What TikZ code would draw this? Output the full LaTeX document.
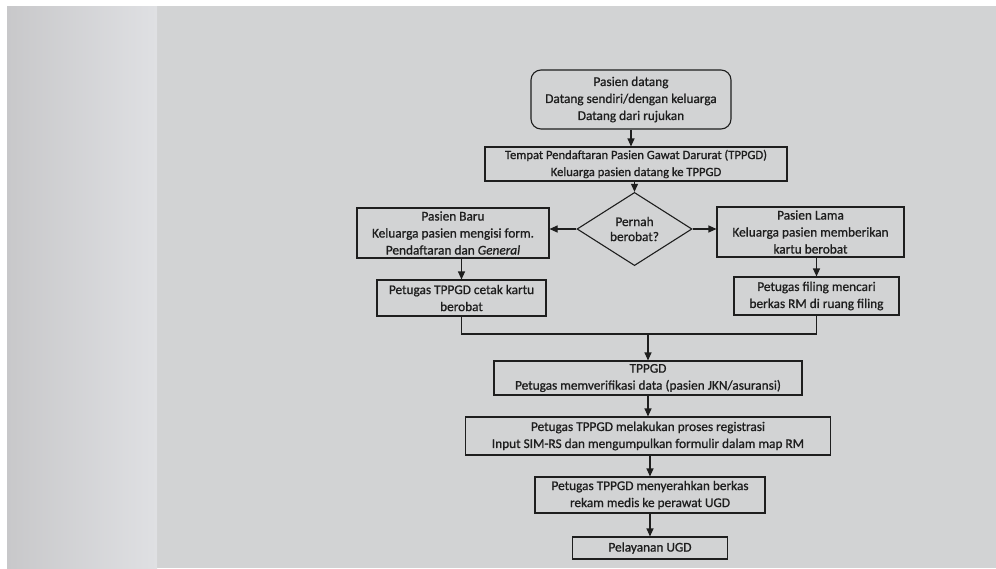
\documentclass[tikz,border=0pt]{standalone}
\usepackage{fontspec}
\setmainfont{Carlito}[FakeBold=0.9]
\usepackage{xcolor}
\usetikzlibrary{arrows.meta, shapes.geometric}
\definecolor{paper}{HTML}{D2D3D4}
\definecolor{foldlight}{HTML}{DFE0E3}
\definecolor{folddark}{HTML}{C8C8CA}
\definecolor{ink}{HTML}{1E1E1E}
\newcommand{\flowfont}{\fontsize{13.3}{17}\selectfont}

\begin{document}
\begin{tikzpicture}[x=1pt, y=-1pt,
    box/.style={draw=ink, line width=1.1pt, inner sep=0pt, align=center,
      text=ink, font=\flowfont},
    decide/.style={box, diamond, font=\fontsize{13.3}{15}\selectfont},
    arr/.style={draw=ink, line width=1.1pt, -{Triangle[length=8pt, width=7pt]}},
    link/.style={draw=ink, line width=1.1pt}]
    % Paper and page fold
    \useasboundingbox (0,0) rectangle (996,568);
    \fill[white] (0,0) rectangle (996,568);
    \fill[paper] (7,6) rectangle (996,568);
    \shade[left color=folddark, right color=foldlight] (7,6) rectangle (157,568);

    % Top of the flow
    \node[box, rounded corners=10pt, minimum width=200, minimum height=59]
      (start) at (631,99.5) {Pasien datang\\Datang sendiri/dengan keluarga\\Datang dari rujukan};
    \node[box, minimum width=302, minimum height=34, font=\fontsize{12.6}{17}\selectfont]
      (tppgd) at (636,164) {Tempat Pendaftaran Pasien Gawat Darurat (TPPGD)\\Keluarga pasien datang ke TPPGD};
    \node[decide, minimum width=115, minimum height=58]
      (ask) at (634.5,229) {Pernah\\berobat?};

    % Two branches
    \node[box, minimum width=192, minimum height=50]
      (baru) at (453,233) {Pasien Baru\\Keluarga pasien mengisi form.\\Pendaftaran dan \textit{General}};
    \node[box, minimum width=187, minimum height=50]
      (lama) at (810.5,232) {Pasien Lama\\Keluarga pasien memberikan\\kartu berobat};
    \node[box, minimum width=169, minimum height=36]
      (cetak) at (461.5,298) {Petugas TPPGD cetak kartu\\berobat};
    \node[box, minimum width=165, minimum height=38]
      (filing) at (816.5,296) {Petugas filing mencari\\berkas RM di ruang filing};

    % Bottom of the flow
    \coordinate (join) at (648,334);
    \node[box, minimum width=308, minimum height=34]
      (verify) at (648,378) {TPPGD\\Petugas memverifikasi data (pasien JKN/asuransi)};
    \node[box, minimum width=365, minimum height=38]
      (regis) at (648,436) {Petugas TPPGD melakukan proses registrasi\\Input SIM-RS dan mengumpulkan formulir dalam map RM};
    \node[box, minimum width=230, minimum height=36]
      (serah) at (650,495) {Petugas TPPGD menyerahkan berkas\\rekam medis ke perawat UGD};
    \node[box, minimum width=155, minimum height=22]
      (layan) at (650,548) {Pelayanan UGD};

    % Connectors
    \draw[arr] (start.south) -- (start.south |- tppgd.north);
    \draw[arr] (ask |- tppgd.south) -- (ask);
    \draw[arr] (ask.west) -- (baru.east |- ask.west);
    \draw[arr] (ask.east) -- (lama.west |- ask.east);
    \draw[arr] (cetak |- baru.south) -- (cetak);
    \draw[arr] (filing |- lama.south) -- (filing);
    \draw[link] (cetak) |- (join) -| (filing);
    \draw[arr] (join) -- (verify);
    \draw[arr] (verify) -- (verify |- regis.north);
    \draw[arr] (serah |- regis.south) -- (serah);
    \draw[arr] (serah) -- (layan);
\end{tikzpicture}
\end{document}
